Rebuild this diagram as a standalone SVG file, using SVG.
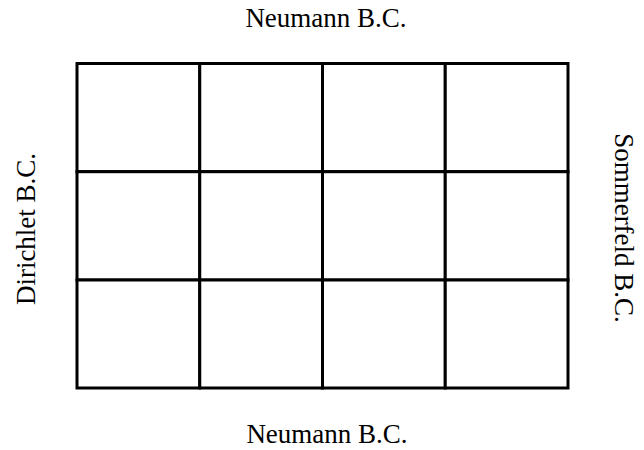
<svg xmlns="http://www.w3.org/2000/svg" width="644" height="450" viewBox="0 0 644 450">
<style>
.cell{fill:#fff;stroke:#000;stroke-width:3}
.lbl{font-family:"Liberation Serif","Times New Roman",serif;font-size:27px;fill:#000;text-anchor:middle}
</style>
<rect width="644" height="450" fill="#fff"/>
<g id="grid">
<g id="c11"><rect class="cell" x="77" y="63.5" width="122.75" height="108.2"/></g>
<g id="c12"><rect class="cell" x="199.75" y="63.5" width="122.75" height="108.2"/></g>
<g id="c13"><rect class="cell" x="322.5" y="63.5" width="122.75" height="108.2"/></g>
<g id="c14"><rect class="cell" x="445.25" y="63.5" width="122.75" height="108.2"/></g>
<g id="c21"><rect class="cell" x="77" y="171.7" width="122.75" height="108.3"/></g>
<g id="c22"><rect class="cell" x="199.75" y="171.7" width="122.75" height="108.3"/></g>
<g id="c23"><rect class="cell" x="322.5" y="171.7" width="122.75" height="108.3"/></g>
<g id="c24"><rect class="cell" x="445.25" y="171.7" width="122.75" height="108.3"/></g>
<g id="c31"><rect class="cell" x="77" y="280" width="122.75" height="108"/></g>
<g id="c32"><rect class="cell" x="199.75" y="280" width="122.75" height="108"/></g>
<g id="c33"><rect class="cell" x="322.5" y="280" width="122.75" height="108"/></g>
<g id="c34"><rect class="cell" x="445.25" y="280" width="122.75" height="108"/></g>
</g>
<g id="labels">
<text class="lbl" x="326" y="27">Neumann B.C.</text>
<text class="lbl" x="327" y="443">Neumann B.C.</text>
<text class="lbl" transform="translate(35,229) rotate(-90)">Dirichlet B.C.</text>
<text class="lbl" transform="translate(615,228) rotate(90)">Sommerfeld B.C.</text>
</g>
</svg>
